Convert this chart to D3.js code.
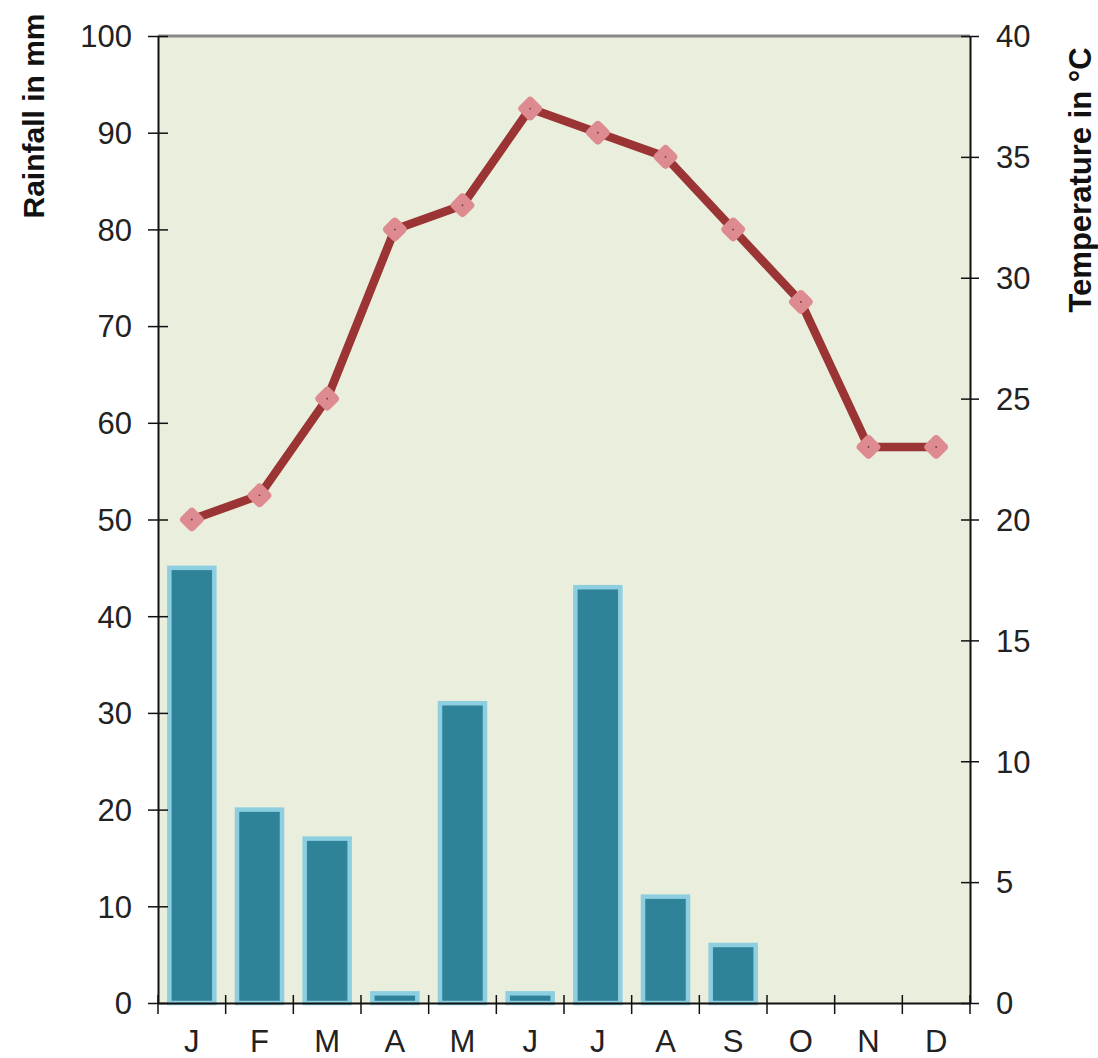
<!DOCTYPE html>
<html>
<head>
<meta charset="utf-8">
<script src="https://cdn.jsdelivr.net/npm/d3@7"></script>
<style>
  body { margin: 0; background: #fff; }
  text { font-family: "Liberation Sans", Arial, sans-serif; }
</style>
</head>
<body>
<div id="chart"></div>
<script>
let months = ['J', 'F', 'M', 'A', 'M', 'J', 'J', 'A', 'S', 'O', 'N', 'D']
let rainfall = [45, 20, 17, 1, 31, 1, 43, 11, 6, 0, 0, 0]
let temperature = [20, 21, 25, 32, 33, 37, 36, 35, 32, 29, 23, 23]
let rainTicks = [0, 10, 20, 30, 40, 50, 60, 70, 80, 90, 100]
let tempTicks = [0, 5, 10, 15, 20, 25, 30, 35, 40]

let W = 1098, H = 1058
let m = { left: 158, right: 128, top: 36, bottom: 55 }
let iw = W - m.left - m.right, ih = H - m.top - m.bottom

let svg = d3.select('#chart')
    .append('svg')
    .attr('width', W)
    .attr('height', H)

let g = svg.append('g').attr('transform', `translate(${m.left},${m.top})`)

let x = d3.scaleBand()
    .domain(d3.range(months.length))
    .range([0, iw])

let yRain = d3.scaleLinear().domain([0, 100]).range([ih, 0])
let yTemp = d3.scaleLinear().domain([0, 40]).range([ih, 0])

// plot background
g.append('rect')
    .attr('width', iw)
    .attr('height', ih)
    .attr('fill', '#eaeedc')

g.append('line')
    .attr('x1', 0).attr('x2', iw)
    .attr('y1', 0).attr('y2', 0)
    .attr('stroke', '#8a8a8a')
    .attr('stroke-width', 3)

// bars
let barW = 45
g.selectAll('.bar')
    .data(rainfall)
    .enter()
    .append('rect')
    .attr('class', 'bar')
    .attr('x', (d, i) => x(i) + (x.step() - barW) / 2)
    .attr('width', barW)
    .attr('y', d => yRain(d))
    .attr('height', d => ih - yRain(d))
    .attr('fill', '#2f8399')
    .attr('stroke', '#8dcfe1')
    .attr('stroke-width', d => d > 0 ? 4.5 : 0)

// temperature line
let line = d3.line()
    .x((d, i) => x(i) + x.step() / 2)
    .y(d => yTemp(d))

g.append('path')
    .datum(temperature)
    .attr('d', line)
    .attr('fill', 'none')
    .attr('stroke', '#9b3434')
    .attr('stroke-width', 8.5)
    .attr('stroke-linejoin', 'round')

let pts = g.selectAll('.pt')
    .data(temperature)
    .enter()
    .append('g')
    .attr('transform', (d, i) => `translate(${x(i) + x.step() / 2},${yTemp(d)})`)

pts.append('rect')
    .attr('x', -9.5).attr('y', -9.5)
    .attr('width', 19).attr('height', 19)
    .attr('rx', 4)
    .attr('transform', 'rotate(45)')
    .attr('fill', '#dd8a91')

pts.append('circle')
    .attr('r', 0.9)
    .attr('fill', '#7a3a3a')

// axes
let tickStyle = sel => {
    sel.select('.domain').attr('stroke', '#111').attr('stroke-width', 2)
    sel.selectAll('.tick line').attr('stroke', '#111').attr('stroke-width', 1.5)
    sel.selectAll('.tick text')
        .attr('fill', '#222')
        .style('font-size', '31px')
        .style('font-family', '"Liberation Sans", Arial, sans-serif')
}

let leftAxis = g.append('g')
    .call(d3.axisLeft(yRain).tickValues(rainTicks).tickSize(10).tickSizeOuter(0))
leftAxis.selectAll('.tick line').attr('x2', 10).attr('x1', -10)
tickStyle(leftAxis)
leftAxis.selectAll('.tick text').attr('x', -26).attr('dy', '0.35em')

let rightAxis = g.append('g')
    .attr('transform', `translate(${iw},0)`)
    .call(d3.axisRight(yTemp).tickValues(tempTicks).tickSize(9).tickSizeOuter(0))
rightAxis.selectAll('.tick line').attr('x1', -9).attr('x2', 9)
tickStyle(rightAxis)
rightAxis.selectAll('.tick text').attr('x', 26).attr('dy', '0.35em')

let bottomAxis = g.append('g')
    .attr('transform', `translate(0,${ih})`)
    .call(d3.axisBottom(x).tickFormat(i => months[i]).tickSize(0).tickSizeOuter(0))
tickStyle(bottomAxis)
bottomAxis.selectAll('.tick text').attr('y', 27).attr('dy', '0.71em')

bottomAxis.selectAll('.sep')
    .data(d3.range(months.length + 1))
    .enter()
    .append('line')
    .attr('x1', i => i * x.step()).attr('x2', i => i * x.step())
    .attr('y1', -8).attr('y2', 11)
    .attr('stroke', '#111')
    .attr('stroke-width', 1.5)

// axis titles
svg.append('text')
    .attr('transform', `translate(44,116) rotate(-90)`)
    .attr('text-anchor', 'middle')
    .style('font-size', '30px')
    .style('font-weight', 'bold')
    .attr('fill', '#111')
    .text('Rainfall in mm')

svg.append('text')
    .attr('transform', `translate(1091,180) rotate(-90)`)
    .attr('text-anchor', 'middle')
    .style('font-size', '31px')
    .style('font-weight', 'bold')
    .attr('fill', '#111')
    .text('Temperature in °C')
</script>
</body>
</html>
